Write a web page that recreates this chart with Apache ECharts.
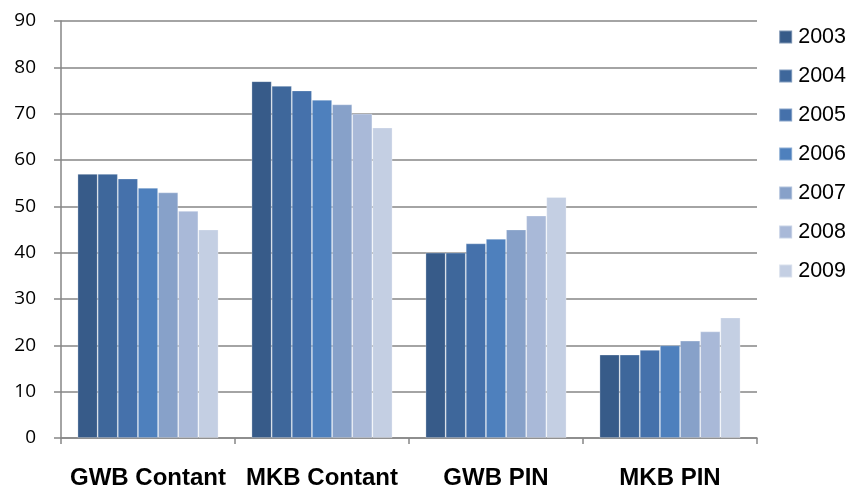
<!DOCTYPE html>
<html>
<head>
<meta charset="utf-8">
<script src="https://cdn.jsdelivr.net/npm/echarts@6/dist/echarts.min.js"></script>
<style>
html,body{margin:0;padding:0;background:#fff;}
#chart{width:853px;height:487px;}
</style>
</head>
<body>
<div id="chart"></div>
<script>
const categories = ['GWB Contant', 'MKB Contant', 'GWB PIN', 'MKB PIN'];
const years = ['2003', '2004', '2005', '2006', '2007', '2008', '2009'];
const v2003 = [57, 77, 40, 18];
const v2004 = [57, 76, 40, 18];
const v2005 = [56, 75, 42, 19];
const v2006 = [54, 73, 43, 20];
const v2007 = [53, 72, 45, 21];
const v2008 = [49, 70, 48, 23];
const v2009 = [45, 67, 52, 26];
const yearValues = [v2003, v2004, v2005, v2006, v2007, v2008, v2009];
const palette = ['#375B89', '#3E679B', '#4571AB', '#4E80BD', '#87A1C9', '#A9B9D8', '#C4CFE3'];

const chart = echarts.init(document.getElementById('chart'));
chart.setOption({
  animation: false,
  textStyle: { fontFamily: 'Liberation Sans, Arial, sans-serif' },
  grid: { left: 61, right: 96, top: 21, bottom: 49, containLabel: false, outerBoundsMode: 'none' },
  legend: {
    orient: 'vertical',
    right: 2,
    top: 21,
    itemWidth: 13,
    itemHeight: 13,
    itemGap: 17,
    icon: 'rect',
    textStyle: { fontSize: 21.5, color: '#000', padding: [0, 0, 0, 1] },
    data: years
  },
  xAxis: {
    type: 'category',
    data: categories,
    axisLine: { lineStyle: { color: '#868686', width: 1.5 } },
    axisTick: { show: true, interval: 0, alignWithLabel: false, length: 6, lineStyle: { color: '#868686', width: 1.5 } },
    axisLabel: { interval: 0, hideOverlap: false, fontSize: 24, fontWeight: 'bold', color: '#000', margin: 28 }
  },
  yAxis: {
    type: 'value',
    min: 0,
    max: 90,
    interval: 10,
    axisLine: { show: true, lineStyle: { color: '#868686', width: 1.5 } },
    axisTick: { show: true, inside: false, length: 7, lineStyle: { color: '#868686', width: 1.5 } },
    splitLine: { lineStyle: { color: '#868686', width: 1.5 } },
    axisLabel: { fontSize: 19, fontFamily: 'Open Sans, sans-serif', color: '#000', margin: 25 }
  },
  series: years.map((y, i) => ({
    name: y,
    type: 'bar',
    data: yearValues[i],
    barGap: '0%',
    barCategoryGap: '19%',
    itemStyle: { color: palette[i], borderColor: 'rgba(255,255,255,0.35)', borderWidth: 0.8 }
  }))
});
</script>
</body>
</html>
